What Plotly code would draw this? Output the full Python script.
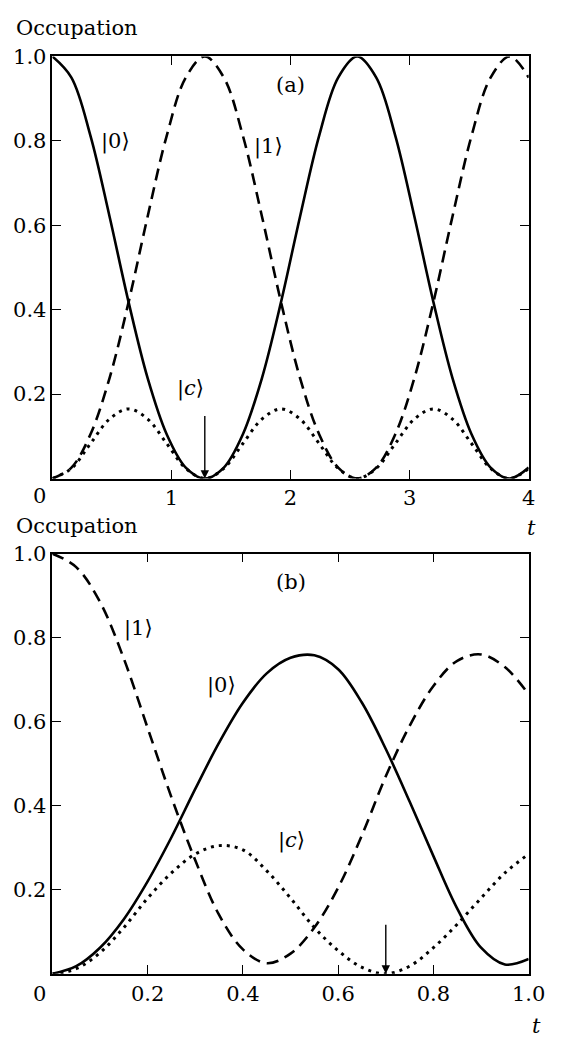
import plotly.graph_objects as go

# ---- Panel (a) data ----
t_a = [0.00, 0.16, 0.32, 0.48, 0.64, 0.80, 0.96, 1.12, 1.28, 1.44, 1.60, 1.76, 1.92,
       2.08, 2.24, 2.40, 2.56, 2.72, 2.88, 3.04, 3.20, 3.36, 3.52, 3.68, 3.84, 4.00]
p0_a = [1.000, 0.950, 0.812, 0.621, 0.418, 0.238, 0.105, 0.026, 0.000, 0.026, 0.105, 0.238, 0.418,
        0.621, 0.812, 0.950, 1.000, 0.950, 0.812, 0.621, 0.418, 0.238, 0.105, 0.026, 0.000, 0.026]
p1_a = [0.000, 0.026, 0.105, 0.238, 0.418, 0.621, 0.812, 0.950, 1.000, 0.950, 0.812, 0.621, 0.418,
        0.238, 0.105, 0.026, 0.000, 0.026, 0.105, 0.238, 0.418, 0.621, 0.812, 0.950, 1.000, 0.950]
pc_a = [0.000, 0.024, 0.083, 0.141, 0.165, 0.141, 0.083, 0.024, 0.000, 0.024, 0.083, 0.141, 0.165,
        0.141, 0.083, 0.024, 0.000, 0.024, 0.083, 0.141, 0.165, 0.141, 0.083, 0.024, 0.000, 0.024]

# ---- Panel (b) data ----
t_b = [0.00, 0.05, 0.10, 0.15, 0.20, 0.25, 0.30, 0.35, 0.40, 0.45, 0.50,
       0.55, 0.60, 0.65, 0.70, 0.75, 0.80, 0.85, 0.90, 0.95, 1.00]
p0_b = [0.000, 0.018, 0.062, 0.130, 0.220, 0.325, 0.440, 0.550, 0.645, 0.715, 0.752,
        0.758, 0.725, 0.645, 0.535, 0.410, 0.280, 0.155, 0.062, 0.022, 0.035]
p1_b = [1.000, 0.968, 0.885, 0.750, 0.585, 0.420, 0.270, 0.140, 0.058, 0.025, 0.048,
        0.110, 0.205, 0.330, 0.470, 0.590, 0.685, 0.745, 0.760, 0.730, 0.665]
pc_b = [0.000, 0.012, 0.050, 0.110, 0.180, 0.240, 0.285, 0.305, 0.295, 0.245, 0.180,
        0.110, 0.055, 0.015, 0.000, 0.018, 0.062, 0.118, 0.180, 0.240, 0.285]

xticks_a = [0, 1, 2, 3, 4]
xticks_b = [0, 0.2, 0.4, 0.6, 0.8, 1.0]
yticks = [0.2, 0.4, 0.6, 0.8, 1.0]

W, H = 568, 1038
FONT = "DejaVu Serif"
FS = 21

def px_x(p):
    return p / W

def px_y(p):
    return 1 - p / H

fig = go.Figure()

line_solid = dict(color="black", width=2.6, shape="spline")
line_dash = dict(color="black", width=2.6, dash="12px,7px", shape="spline")
line_dot = dict(color="black", width=3.0, dash="3px,5px", shape="spline")

fig.add_trace(go.Scatter(x=t_a, y=p0_a, mode="lines", line=line_solid, xaxis="x", yaxis="y"))
fig.add_trace(go.Scatter(x=t_a, y=p1_a, mode="lines", line=line_dash, xaxis="x", yaxis="y"))
fig.add_trace(go.Scatter(x=t_a, y=pc_a, mode="lines", line=line_dot, xaxis="x", yaxis="y"))
fig.add_trace(go.Scatter(x=t_b, y=p0_b, mode="lines", line=line_solid, xaxis="x2", yaxis="y2"))
fig.add_trace(go.Scatter(x=t_b, y=p1_b, mode="lines", line=line_dash, xaxis="x2", yaxis="y2"))
fig.add_trace(go.Scatter(x=t_b, y=pc_b, mode="lines", line=line_dot, xaxis="x2", yaxis="y2"))

axis_common = dict(showgrid=False, zeroline=False, showline=True, linecolor="black",
                   linewidth=1.5, mirror="ticks", ticks="inside", ticklen=9,
                   tickwidth=1.3, tickcolor="black",
                   tickfont=dict(family=FONT, size=FS, color="black"))

xdom = [px_x(54), px_x(545)]
fig.update_layout(
    width=W, height=H, margin=dict(l=0, r=0, t=0, b=0),
    paper_bgcolor="white", plot_bgcolor="white", showlegend=False,
    font=dict(family=FONT, size=FS, color="black"),
    xaxis=dict(domain=xdom, range=[0, 4], anchor="y", tickvals=xticks_a,
               ticktext=["" if v == 0 else str(v) for v in xticks_a], **axis_common),
    yaxis=dict(domain=[px_y(472), px_y(45)], range=[0, 1], anchor="x", tickvals=yticks,
               ticktext=[f"{v:.1f}" for v in yticks], **axis_common),
    xaxis2=dict(domain=xdom, range=[0, 1], anchor="y2", tickvals=xticks_b,
                ticktext=["" if v == 0 else f"{v:.1f}" for v in xticks_b], **axis_common),
    yaxis2=dict(domain=[px_y(973), px_y(548)], range=[0, 1], anchor="x2", tickvals=yticks,
                ticktext=[f"{v:.1f}" for v in yticks], **axis_common),
)

def ptext(text, x, y, xanchor="center"):
    fig.add_annotation(text=text, x=px_x(x), y=px_y(y), xref="paper", yref="paper",
                       showarrow=False, xanchor=xanchor, yanchor="middle",
                       font=dict(family=FONT, size=FS, color="black"))

# axis titles and origin labels
ptext("Occupation", 14, 16, xanchor="left")
ptext("Occupation", 14, 520, xanchor="left")
ptext("<i>t</i>", 548, 522)
ptext("<i>t</i>", 553, 1026)
ptext("0", 41, 490)
ptext("0", 41, 993)

# curve labels
ptext("(a)", 299, 74)
ptext("|0⟩", 119, 131)
ptext("|1⟩", 277, 136)
ptext("|<i>c</i>⟩", 196, 381)
ptext("(b)", 300, 577)
ptext("|1⟩", 143, 624)
ptext("|0⟩", 228, 681)
ptext("|<i>c</i>⟩", 300, 838)

# arrows
fig.add_annotation(x=1.28, y=0, ax=1.28, ay=0.152, xref="x", yref="y", axref="x", ayref="y",
                   showarrow=True, arrowhead=2, arrowsize=1.2, arrowwidth=1.4,
                   arrowcolor="black", text="")
fig.add_annotation(x=0.70, y=0, ax=0.70, ay=0.12, xref="x2", yref="y2", axref="x2", ayref="y2",
                   showarrow=True, arrowhead=2, arrowsize=1.2, arrowwidth=1.4,
                   arrowcolor="black", text="")

fig.write_html("out.html")
